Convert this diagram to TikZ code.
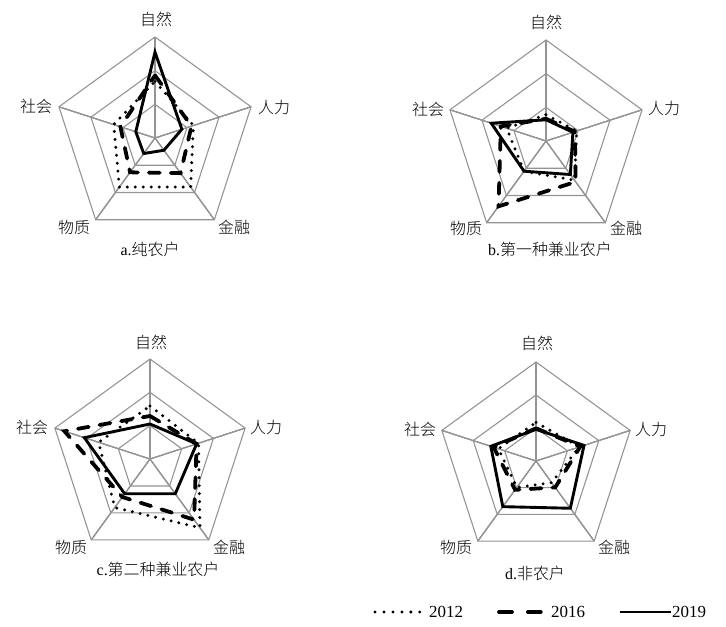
\documentclass[tikz,border=0pt]{standalone}
\usepackage{fontspec}
\setmainfont{Liberation Serif}
\newfontfamily\cjk{Noto Sans CJK SC Light}
\tikzset{
  grid/.style={draw=black!42, line width=1.1pt, line join=miter},
  sdot/.style={line width=3.3pt, line cap=round, dash pattern=on 0pt off 8pt},
  sdash/.style={line width=3.8pt, line cap=round, dash pattern=on 11pt off 11pt},
  ssolid/.style={line width=2.9pt, line join=miter},
  lab/.style={inner sep=0pt, font=\fontsize{16}{18}\selectfont\cjk},
  subtitle/.style={inner sep=0pt, font=\fontsize{16}{18}\selectfont},
  leg/.style={inner sep=0pt, anchor=west, font=\fontsize{17}{18}\selectfont}
}
% #1 style, #2 radius, #3..#7 values (fraction) for 90,18,-54,-126,162
\newcommand{\rpoly}[7]{%
  \draw[#1] (90:{#2*#3}) -- (18:{#2*#4}) -- (-54:{#2*#5}) -- (-126:{#2*#6}) -- (162:{#2*#7}) -- cycle;}
\newcommand{\rgrid}[1]{%
  \foreach \f in {0.3333,0.6667,1} \rpoly{grid}{#1}{\f}{\f}{\f}{\f}{\f}
  \foreach \a in {90,18,-54,-126,162} \draw[grid] (0,0) -- (\a:#1);}
\begin{document}
\begin{tikzpicture}[x=1bp,y=1bp]
\useasboundingbox (0,0) rectangle (726,-627);
% ---- chart a
\begin{scope}[shift={(155,-138)}]
  \rgrid{101}
  \rpoly{sdot}{101}{0.56}{0.40}{0.60}{0.60}{0.43}
  \rpoly{sdash}{101}{0.62}{0.38}{0.43}{0.42}{0.36}
  \rpoly{ssolid}{101}{0.85}{0.28}{0.15}{0.19}{0.20}
\end{scope}
\node[lab] (a1) at (156,-19) {自然};
\node[lab] (a2) at (274,-107) {人力};
\node[lab] (a3) at (234,-227) {金融};
\node[lab] (a4) at (74,-227) {物质};
\node[lab] (a5) at (36,-106) {社会};
\node[subtitle] (at) at (150,-249) {a.{\cjk 纯农户}};
% ---- chart b
\begin{scope}[shift={(546,-141)}]
  \rgrid{101}
  \rpoly{sdot}{101}{0.26}{0.32}{0.48}{0.37}{0.41}
  \rpoly{sdash}{101}{0.22}{0.30}{0.50}{0.80}{0.47}
  \rpoly{ssolid}{101}{0.21}{0.28}{0.41}{0.37}{0.57}
\end{scope}
\node[lab] (b1) at (546,-22) {自然};
\node[lab] (b2) at (664,-108) {人力};
\node[lab] (b3) at (626,-228) {金融};
\node[lab] (b4) at (466,-228) {物质};
\node[lab] (b5) at (428,-109) {社会};
\node[subtitle] (bt) at (550,-249) {b.{\cjk 第一种兼业农户}};
% ---- chart c
\begin{scope}[shift={(150,-459)}]
  \rgrid{100}
  \rpoly{sdot}{100}{0.53}{0.51}{0.85}{0.60}{0.54}
  \rpoly{sdash}{100}{0.43}{0.49}{0.75}{0.47}{0.90}
  \rpoly{ssolid}{100}{0.35}{0.49}{0.43}{0.43}{0.69}
\end{scope}
\node[lab] (c1) at (151,-342) {自然};
\node[lab] (c2) at (266,-427) {人力};
\node[lab] (c3) at (229,-547) {金融};
\node[lab] (c4) at (71,-547) {物质};
\node[lab] (c5) at (32,-427) {社会};
\node[subtitle] (ct) at (158,-569) {c.{\cjk 第二种兼业农户}};
% ---- chart d
\begin{scope}[shift={(536,-461)}]
  \rgrid{99}
  \rpoly{sdot}{99}{0.39}{0.46}{0.27}{0.33}{0.40}
  \rpoly{sdash}{99}{0.33}{0.47}{0.33}{0.36}{0.45}
  \rpoly{ssolid}{99}{0.32}{0.51}{0.59}{0.57}{0.48}
\end{scope}
\node[lab] (d1) at (537,-343) {自然};
\node[lab] (d2) at (651,-429) {人力};
\node[lab] (d3) at (614,-547) {金融};
\node[lab] (d4) at (456,-547) {物质};
\node[lab] (d5) at (420,-429) {社会};
\node[subtitle] (dt) at (535,-573) {d.{\cjk 非农户}};
% ---- legend
\coordinate (l1a) at (375,-612); \coordinate (l1b) at (421,-612);
\coordinate (l2a) at (499,-612); \coordinate (l2b) at (542,-612);
\coordinate (l3a) at (620,-612); \coordinate (l3b) at (671,-612);
\draw[sdot, dash pattern=on 0pt off 9pt] (l1a) -- (l1b);
\draw[sdash, dash pattern=on 13pt off 16pt] (l2a) -- (l2b);
\draw[ssolid] (l3a) -- (l3b);
\node[leg] (y1) at (429,-612) {2012};
\node[leg] (y2) at (551,-612) {2016};
\node[leg] (y3) at (672,-612) {2019};
\end{tikzpicture}
\end{document}
